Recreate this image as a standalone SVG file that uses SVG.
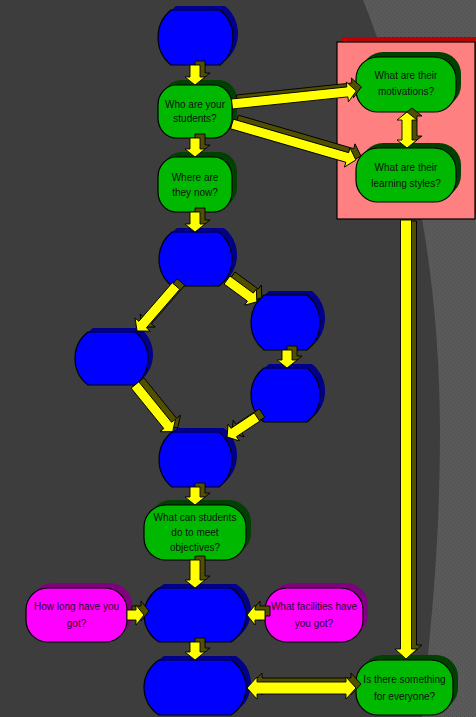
<svg xmlns="http://www.w3.org/2000/svg" xmlns:xlink="http://www.w3.org/1999/xlink" width="476" height="717" viewBox="0 0 476 717">
<defs>
<pattern id="tex" width="4" height="4" patternUnits="userSpaceOnUse">
<rect width="4" height="4" fill="#5a5a5a"/>
<rect x="0" y="0" width="1" height="1" fill="#4e4e4e"/>
<rect x="2" y="2" width="1" height="1" fill="#4e4e4e"/>
</pattern>
<style>
.blue{fill:#0000ff;stroke:#000;stroke-width:1.2;stroke-linejoin:round}
.bsh{fill:#00008c}
.green{fill:#00b800;stroke:#000;stroke-width:1.2}
.gsh{fill:#004000}
.pink{fill:#ff00ff;stroke:#000;stroke-width:1.2}
.psh{fill:#800080}
.arr{fill:#ffff00;stroke:#000;stroke-width:0.9}
.ash{fill:#505000;stroke:#000;stroke-width:0.9}
text{font-family:"Liberation Sans",Arial,sans-serif;font-size:10px;text-anchor:middle;fill:#101010}
.pt{fill:#2a002a}
</style>
</defs>
<rect width="476" height="717" fill="#3d3d3d"/>
<path d="M363 0 C400 90 440 250 440 430 C440 560 428 650 422 717 L476 717 L476 0 Z" fill="url(#tex)"/>

<g id="group-box">
<rect x="342" y="37" width="140" height="177" fill="#c00000"/>
<rect x="337" y="42" width="138" height="177" fill="#ff8080" stroke="#000" stroke-width="1.2"/>
</g>

<g id="n1"><path class="bsh" transform="translate(5,-4)" d="M171,10 H220 A35.6 35.6 0 0 1 220,65 H171 A35.6 35.6 0 0 1 171,10Z"/><path class="blue" d="M171,10 H220 A35.6 35.6 0 0 1 220,65 H171 A35.6 35.6 0 0 1 171,10Z"/></g>
<g id="n2"><rect class="gsh" x="163" y="80" width="74" height="53" rx="18" ry="20"/><rect class="green" x="158" y="85" width="74" height="53" rx="18" ry="20"/>
<text x="195" y="108">Who are your</text><text x="195" y="122">students?</text></g>
<g id="n3"><rect class="gsh" x="163" y="152" width="74" height="55" rx="18" ry="20"/><rect class="green" x="158" y="157" width="74" height="55" rx="18" ry="20"/>
<text x="195" y="181">Where are</text><text x="195" y="196">they now?</text></g>
<g id="n4"><path class="bsh" transform="translate(5,-4)" d="M172,232 H219 A34.5 34.5 0 0 1 219,286 H172 A34.5 34.5 0 0 1 172,232Z"/><path class="blue" d="M172,232 H219 A34.5 34.5 0 0 1 219,286 H172 A34.5 34.5 0 0 1 172,232Z"/></g>
<g id="n5"><path class="bsh" transform="translate(5,-4)" d="M264,295 H307 A35.6 35.6 0 0 1 307,350 H264 A35.6 35.6 0 0 1 264,295Z"/><path class="blue" d="M264,295 H307 A35.6 35.6 0 0 1 307,350 H264 A35.6 35.6 0 0 1 264,295Z"/></g>
<g id="n6"><path class="bsh" transform="translate(5,-4)" d="M88,332 H135 A33.5 33.5 0 0 1 135,385 H88 A33.5 33.5 0 0 1 88,332Z"/><path class="blue" d="M88,332 H135 A33.5 33.5 0 0 1 135,385 H88 A33.5 33.5 0 0 1 88,332Z"/></g>
<g id="n7"><path class="bsh" transform="translate(5,-4)" d="M264,368 H307 A34.5 34.5 0 0 1 307,422 H264 A34.5 34.5 0 0 1 264,368Z"/><path class="blue" d="M264,368 H307 A34.5 34.5 0 0 1 307,422 H264 A34.5 34.5 0 0 1 264,368Z"/></g>
<g id="n8"><path class="bsh" transform="translate(5,-4)" d="M172,432 H219 A35.6 35.6 0 0 1 219,487 H172 A35.6 35.6 0 0 1 172,432Z"/><path class="blue" d="M172,432 H219 A35.6 35.6 0 0 1 219,487 H172 A35.6 35.6 0 0 1 172,432Z"/></g>
<g id="n9"><rect class="gsh" x="149" y="500" width="102" height="55" rx="22" ry="22"/><rect class="green" x="144" y="505" width="102" height="55" rx="22" ry="22"/>
<text x="195" y="521">What can students</text><text x="195" y="536">do to meet</text><text x="195" y="551">objectives?</text></g>
<g id="n10"><path class="bsh" transform="translate(5,-4)" d="M159,588 H231 A31.8 31.8 0 0 1 231,642 H159 A31.8 31.8 0 0 1 159,588Z"/><path class="blue" d="M159,588 H231 A31.8 31.8 0 0 1 231,642 H159 A31.8 31.8 0 0 1 159,588Z"/></g>
<g id="n11"><path class="bsh" transform="translate(5,-4)" d="M159,660 H231 A32.7 32.7 0 0 1 231,715 H159 A32.7 32.7 0 0 1 159,660Z"/><path class="blue" d="M159,660 H231 A32.7 32.7 0 0 1 231,715 H159 A32.7 32.7 0 0 1 159,660Z"/></g>
<g id="n12"><rect class="psh" x="31" y="583" width="101" height="54" rx="22" ry="22"/><rect class="pink" x="26" y="588" width="101" height="54" rx="22" ry="22"/>
<text class="pt" x="76.5" y="610">How long have you</text><text class="pt" x="76.5" y="627">got?</text></g>
<g id="n13"><rect class="psh" x="270" y="583" width="98" height="54" rx="22" ry="22"/><rect class="pink" x="265" y="588" width="98" height="54" rx="22" ry="22"/>
<text class="pt" x="314" y="610">What facilities have</text><text class="pt" x="314" y="627">you got?</text></g>
<g id="n14"><rect class="gsh" x="361" y="655" width="97" height="55" rx="22" ry="22"/><rect class="green" x="356" y="660" width="97" height="55" rx="22" ry="22"/>
<text x="404.5" y="683">Is there something</text><text x="404.5" y="700">for everyone?</text></g>
<g id="n15"><rect class="gsh" x="361" y="52" width="100" height="55" rx="22" ry="22"/><rect class="green" x="356" y="57" width="100" height="55" rx="22" ry="22"/>
<text x="406" y="79">What are their</text><text x="406" y="95">motivations?</text></g>
<g id="n16"><rect class="gsh" x="361" y="143" width="100" height="54" rx="22" ry="22"/><rect class="green" x="356" y="148" width="100" height="54" rx="22" ry="22"/>
<text x="406" y="171">What are their</text><text x="406" y="187">learning styles?</text></g>

<g id="connectors">
<g id="arrow-shadows" class="ash" transform="translate(5,-4)">
<use xlink:href="#c1"/><use xlink:href="#c2"/><use xlink:href="#c3"/><use xlink:href="#c4"/><use xlink:href="#c5"/><use xlink:href="#c6"/>
<use xlink:href="#c7"/><use xlink:href="#c8"/><use xlink:href="#c9"/><use xlink:href="#c10"/><use xlink:href="#c11"/><use xlink:href="#c12"/>
<use xlink:href="#c13"/><use xlink:href="#c14"/><use xlink:href="#c15"/><use xlink:href="#c16"/><use xlink:href="#c18"/>
<polygon transform="translate(406,221) rotate(90)" points="4,-5.5 428,-5.5 428,-11 438,0 428,11 428,5.5 4,5.5"/>
</g>
<g class="arr">
<polygon id="c1" transform="translate(195,65) rotate(90)" points="0,-5 12,-5 12,-10 20,0 12,10 12,5 0,5"/>
<polygon id="c2" transform="translate(195,138) rotate(90)" points="0,-5 11,-5 11,-10 19,0 11,10 11,5 0,5"/>
<polygon id="c3" transform="translate(195,212) rotate(90)" points="0,-5 12,-5 12,-10 20,0 12,10 12,5 0,5"/>
<polygon id="c4" transform="translate(232,104) rotate(-5.98)" points="0,-5 116,-5 116,-10 125,0 116,10 116,5 0,5"/>
<polygon id="c5" transform="translate(232,124) rotate(16.19)" points="0,-5 120,-5 120,-10 129,0 120,10 120,5 0,5"/>
<polygon id="c6" transform="translate(407,112) rotate(90)" points="0,0 8,-10 8,-5 28,-5 28,-10 36,0 28,10 28,5 8,5 8,10"/>
<polygon id="c7" transform="translate(176,286) rotate(130.9)" points="0,-5 51,-5 51,-10 59.5,0 51,10 51,5 0,5"/>
<polygon id="c8" transform="translate(227,280) rotate(36.25)" points="0,-5 29,-5 29,-10 37,0 29,10 29,5 0,5"/>
<polygon id="c9" transform="translate(287,350) rotate(90)" points="0,-5 10,-5 10,-10 18,0 10,10 10,5 0,5"/>
<polygon id="c10" transform="translate(135,385) rotate(51.04)" points="0,-5 52,-5 52,-10 60,0 52,10 52,5 0,5"/>
<polygon id="c11" transform="translate(257,417) rotate(146.31)" points="0,-5 28,-5 28,-10 36,0 28,10 28,5 0,5"/>
<polygon id="c12" transform="translate(195,487) rotate(90)" points="0,-5 10,-5 10,-10 18,0 10,10 10,5 0,5"/>
<polygon id="c13" transform="translate(195,560) rotate(90)" points="0,-5 20,-5 20,-10 28,0 20,10 20,5 0,5"/>
<polygon id="c14" transform="translate(127,615)" points="0,-5 9,-5 9,-10 17,0 9,10 9,5 0,5"/>
<polygon id="c15" transform="translate(265,615) rotate(180)" points="0,-5 10,-5 10,-10 18,0 10,10 10,5 0,5"/>
<polygon id="c16" transform="translate(195,642) rotate(90)" points="0,-5 10,-5 10,-10 18,0 10,10 10,5 0,5"/>
<polygon id="c17" transform="translate(406,220) rotate(90)" points="0,-5.5 429,-5.5 429,-11 439,0 429,11 429,5.5 0,5.5"/>
<polygon id="c18" transform="translate(247,688)" points="0,0 10,-11 10,-6 99,-6 99,-11 109,0 99,11 99,6 10,6 10,11"/>
</g>
</g>
</svg>
